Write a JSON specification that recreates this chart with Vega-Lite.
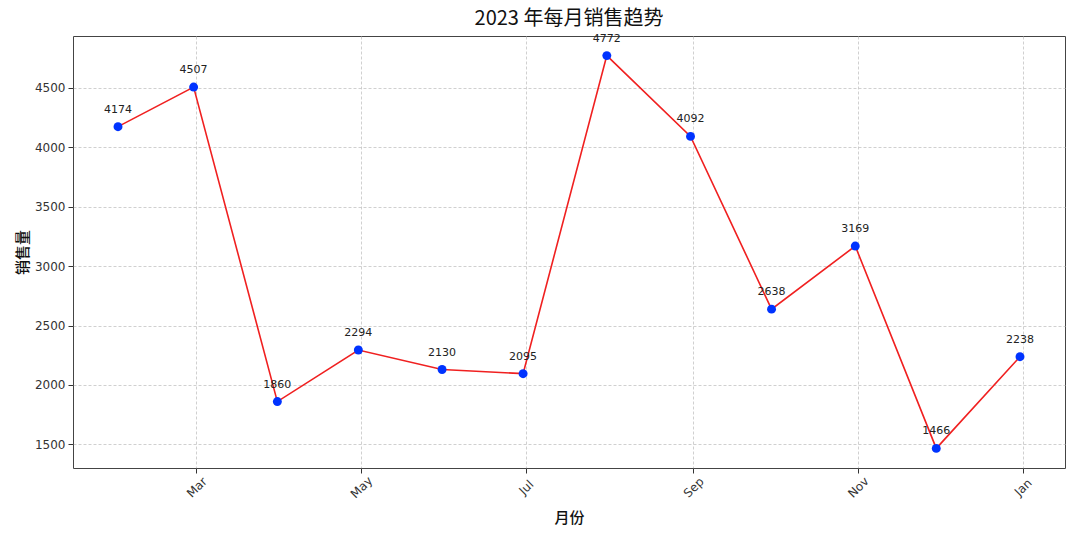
{
  "$schema": "https://vega.github.io/schema/vega-lite/v6.json",
  "autosize": {"type": "none"},
  "width": 992,
  "height": 432,
  "padding": {"left": 73, "top": 36, "right": 15, "bottom": 70},
  "background": "white",
  "config": {
    "view": {"stroke": "#444", "strokeWidth": 1},
    "font": "Noto Sans CJK SC"
  },
  "title": {
    "text": "2023 年每月销售趋势",
    "font": "Noto Sans CJK SC",
    "fontSize": 20,
    "fontWeight": "normal",
    "color": "#111",
    "anchor": "middle",
    "offset": 4
  },
  "data": {
    "values": [
      {"date": "2023-01-31", "sales": 4174},
      {"date": "2023-02-28", "sales": 4507},
      {"date": "2023-03-31", "sales": 1860},
      {"date": "2023-04-30", "sales": 2294},
      {"date": "2023-05-31", "sales": 2130},
      {"date": "2023-06-30", "sales": 2095},
      {"date": "2023-07-31", "sales": 4772},
      {"date": "2023-08-31", "sales": 4092},
      {"date": "2023-09-30", "sales": 2638},
      {"date": "2023-10-31", "sales": 3169},
      {"date": "2023-11-30", "sales": 1466},
      {"date": "2023-12-31", "sales": 2238}
    ]
  },
  "encoding": {
    "x": {
      "field": "date",
      "type": "temporal",
      "title": "月份",
      "scale": {
        "domain": [
          {"year": 2023, "month": 1, "date": 14, "hours": 8},
          {"year": 2024, "month": 1, "date": 16, "hours": 16}
        ]
      },
      "axis": {
        "values": [
          {"year": 2023, "month": 3, "date": 1},
          {"year": 2023, "month": 5, "date": 1},
          {"year": 2023, "month": 7, "date": 1},
          {"year": 2023, "month": 9, "date": 1},
          {"year": 2023, "month": 11, "date": 1},
          {"year": 2024, "month": 1, "date": 1}
        ],
        "format": "%b",
        "labelAngle": -45,
        "labelAlign": "center",
        "labelBaseline": "middle",
        "labelPadding": 14,
        "labelFontSize": 12,
        "labelColor": "#333",
        "labelFont": "DejaVu Sans",
        "tickSize": 5,
        "tickColor": "#333",
        "domain": false,
        "grid": true,
        "gridColor": "#c4c4c4",
        "gridDash": [3, 2],
        "gridWidth": 0.8,
        "titleFontSize": 15,
        "titleFontWeight": 500,
        "titleColor": "#111",
        "titleBaseline": "middle",
        "titleY": 49
      }
    },
    "y": {
      "field": "sales",
      "type": "quantitative",
      "title": "销售量",
      "scale": {"domain": [1301, 4937], "nice": false, "zero": false},
      "axis": {
        "values": [1500, 2000, 2500, 3000, 3500, 4000, 4500],
        "format": "d",
        "labelFontSize": 12,
        "labelColor": "#333",
        "labelFont": "DejaVu Sans",
        "labelPadding": 3,
        "tickSize": 5,
        "tickColor": "#333",
        "domain": false,
        "grid": true,
        "gridColor": "#c4c4c4",
        "gridDash": [3, 2],
        "gridWidth": 0.8,
        "titleFontSize": 15,
        "titleFontWeight": 500,
        "titleColor": "#111",
        "titleBaseline": "middle",
        "titleAngle": -90,
        "titleX": -51
      }
    }
  },
  "layer": [
    {
      "mark": {"type": "line", "color": "#f02020", "strokeWidth": 1.6}
    },
    {
      "mark": {"type": "point", "filled": true, "color": "#0033ff", "size": 80, "opacity": 1}
    },
    {
      "mark": {"type": "text", "fontSize": 11, "color": "#222", "font": "DejaVu Sans", "baseline": "alphabetic", "dy": -14},
      "encoding": {"text": {"field": "sales", "type": "quantitative", "format": "d"}}
    }
  ]
}
